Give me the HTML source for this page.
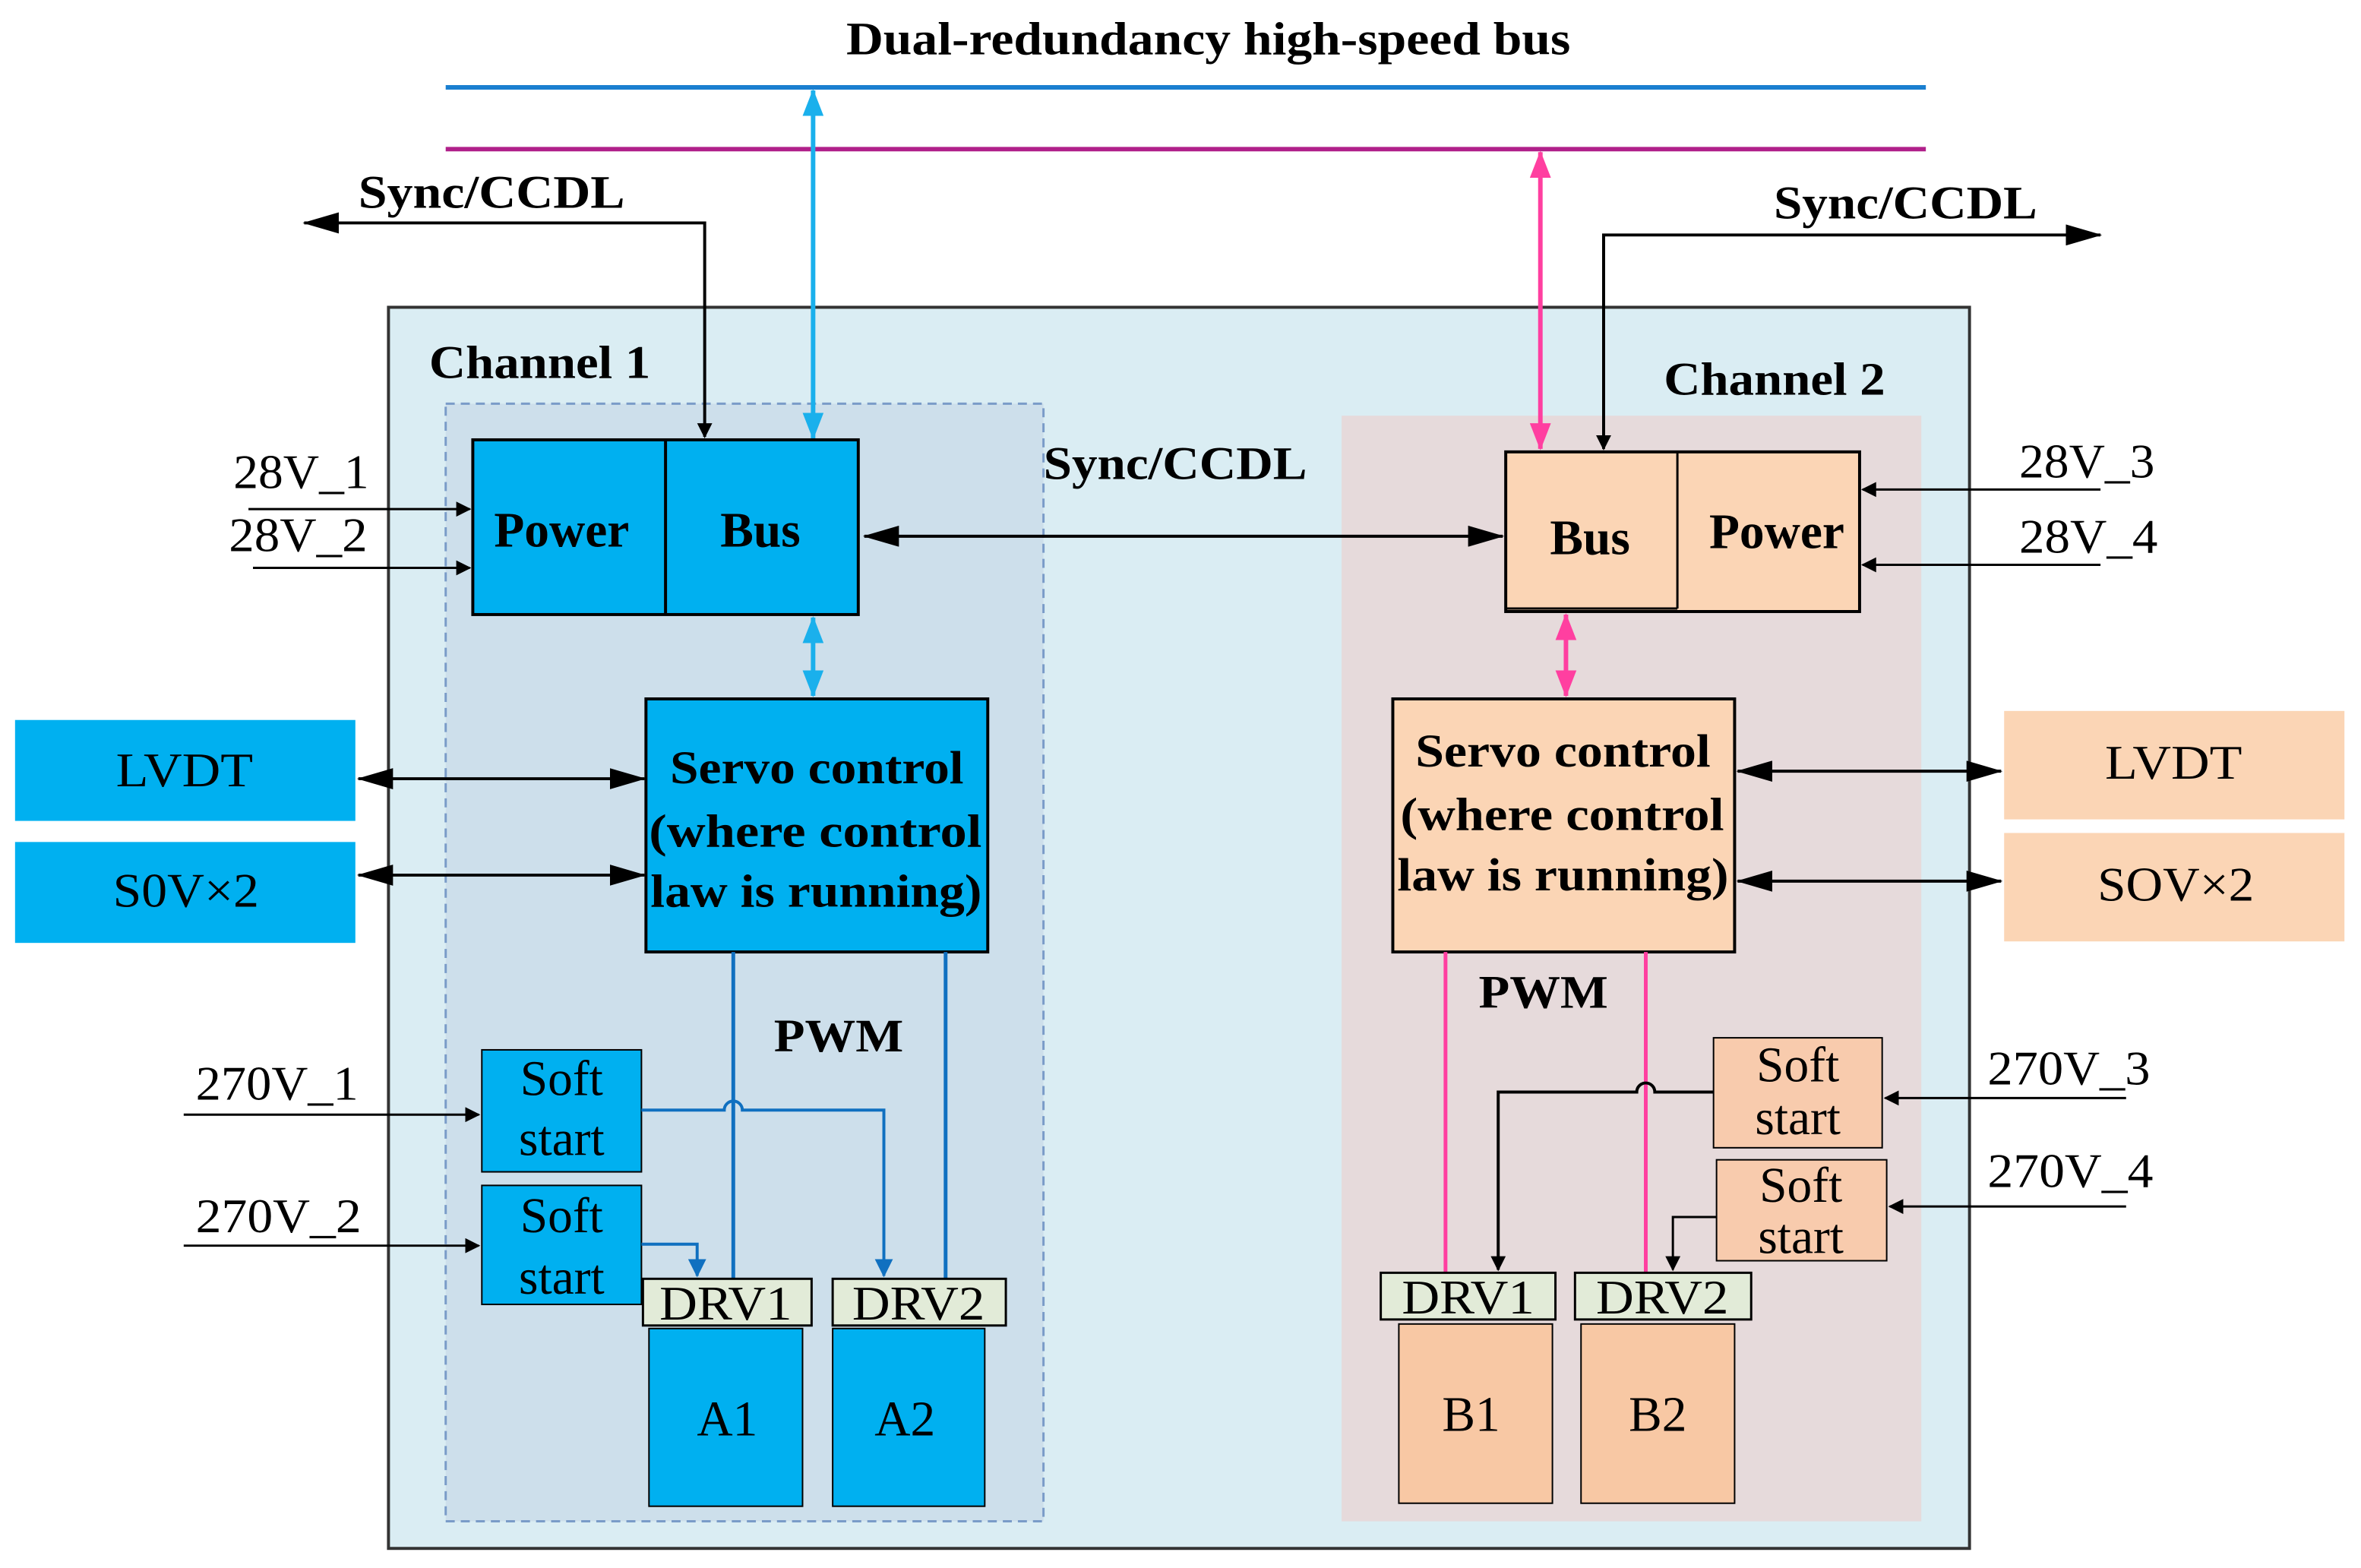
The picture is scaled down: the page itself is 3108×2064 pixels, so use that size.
<!DOCTYPE html>
<html><head><meta charset="utf-8"><style>
html,body{margin:0;padding:0;background:#fff;}
svg{display:block;}
text{font-family:"Liberation Serif",serif;fill:#000;}
.b{font-weight:bold;}
</style></head><body>
<svg width="3108" height="2064" viewBox="0 0 1568 1041" preserveAspectRatio="none" xmlns="http://www.w3.org/2000/svg">
<defs>
<marker id="ak" markerWidth="10" markerHeight="10" refX="9" refY="5" orient="auto-start-reverse" markerUnits="userSpaceOnUse"><path d="M0,0 L10,5 L0,10 Z" fill="#000"/></marker>
<marker id="akL" markerWidth="24" markerHeight="14" refX="23" refY="7" orient="auto-start-reverse" markerUnits="userSpaceOnUse"><path d="M0,0 L24,7 L0,14 Z" fill="#000"/></marker>
<marker id="ab" markerWidth="18" markerHeight="14" refX="17" refY="7" orient="auto-start-reverse" markerUnits="userSpaceOnUse"><path d="M0,0 L18,7 L0,14 Z" fill="#1ab0ec"/></marker>
<marker id="ap" markerWidth="18" markerHeight="14" refX="17" refY="7" orient="auto-start-reverse" markerUnits="userSpaceOnUse"><path d="M0,0 L18,7 L0,14 Z" fill="#ff3fa0"/></marker>
<marker id="ad" markerWidth="12" markerHeight="12" refX="11" refY="6" orient="auto" markerUnits="userSpaceOnUse"><path d="M0,0 L12,6 L0,12 Z" fill="#1070c0"/></marker>
</defs>
<rect width="1568" height="1041" fill="#fff"/>
<text x="562" y="36" font-size="31" class="b" textLength="481" lengthAdjust="spacingAndGlyphs">Dual-redundancy high-speed bus</text>
<line x1="296" y1="58" x2="1279" y2="58" stroke="#1a7fd0" stroke-width="3"/>
<line x1="296" y1="99" x2="1279" y2="99" stroke="#b0208a" stroke-width="3"/>

<rect x="258" y="204" width="1050" height="824" fill="#daedf3" stroke="#333" stroke-width="2"/>
<rect x="296" y="268" width="397" height="742" fill="#cddfeb" stroke="#7a9cc8" stroke-width="1.5" stroke-dasharray="6,4"/>
<rect x="891" y="276" width="385" height="734" fill="#e6dadb"/>
<text x="285" y="251" font-size="31" class="b" textLength="147" lengthAdjust="spacingAndGlyphs">Channel 1</text>
<text x="1105" y="262" font-size="31" class="b" textLength="147" lengthAdjust="spacingAndGlyphs">Channel 2</text>

<polyline points="468,290 468,148 202,148" fill="none" stroke="#000" stroke-width="2" marker-start="url(#ak)" marker-end="url(#akL)"/>
<text x="238" y="138" font-size="31" class="b" textLength="177" lengthAdjust="spacingAndGlyphs">Sync/CCDL</text>
<polyline points="1065,298 1065,156 1395,156" fill="none" stroke="#000" stroke-width="2" marker-start="url(#ak)" marker-end="url(#akL)"/>
<text x="1178" y="145" font-size="31" class="b" textLength="175" lengthAdjust="spacingAndGlyphs">Sync/CCDL</text>

<line x1="540" y1="60" x2="540" y2="291" stroke="#1ab0ec" stroke-width="3" marker-start="url(#ab)" marker-end="url(#ab)"/>
<line x1="1023" y1="101" x2="1023" y2="298" stroke="#ff3fa0" stroke-width="3" marker-start="url(#ap)" marker-end="url(#ap)"/>

<rect x="314" y="292" width="256" height="116" fill="#00b0f0" stroke="#000" stroke-width="2"/>
<line x1="442" y1="292" x2="442" y2="408" stroke="#000" stroke-width="2"/>
<text x="373" y="363" font-size="33" class="b" text-anchor="middle">Power</text>
<text x="505" y="363" font-size="33" class="b" text-anchor="middle">Bus</text>
<rect x="1000" y="300" width="235" height="106" fill="#fbd5b5" stroke="#000" stroke-width="2"/>
<line x1="1114" y1="300" x2="1114" y2="404" stroke="#000" stroke-width="1.5"/>
<line x1="1000" y1="404" x2="1114" y2="404" stroke="#000" stroke-width="1.5"/>
<text x="1056" y="368" font-size="33" class="b" text-anchor="middle">Bus</text>
<text x="1180" y="364" font-size="33" class="b" text-anchor="middle">Power</text>

<text x="693" y="318" font-size="31" class="b" textLength="175" lengthAdjust="spacingAndGlyphs">Sync/CCDL</text>
<line x1="574" y1="356" x2="998" y2="356" stroke="#000" stroke-width="2" marker-start="url(#akL)" marker-end="url(#akL)"/>

<text x="155" y="324" font-size="32" textLength="90" lengthAdjust="spacingAndGlyphs">28V_1</text>
<line x1="165" y1="338" x2="312" y2="338" stroke="#000" stroke-width="1.5" marker-end="url(#ak)"/>
<text x="152" y="366" font-size="32" textLength="92" lengthAdjust="spacingAndGlyphs">28V_2</text>
<line x1="168" y1="377" x2="312" y2="377" stroke="#000" stroke-width="1.5" marker-end="url(#ak)"/>
<text x="1341" y="317" font-size="32" textLength="90" lengthAdjust="spacingAndGlyphs">28V_3</text>
<line x1="1395" y1="325" x2="1237" y2="325" stroke="#000" stroke-width="1.5" marker-end="url(#ak)"/>
<text x="1341" y="367" font-size="32" textLength="92" lengthAdjust="spacingAndGlyphs">28V_4</text>
<line x1="1395" y1="375" x2="1237" y2="375" stroke="#000" stroke-width="1.5" marker-end="url(#ak)"/>

<line x1="540" y1="410" x2="540" y2="462" stroke="#1ab0ec" stroke-width="3" marker-start="url(#ab)" marker-end="url(#ab)"/>
<line x1="1040" y1="408" x2="1040" y2="462" stroke="#ff3fa0" stroke-width="3" marker-start="url(#ap)" marker-end="url(#ap)"/>

<rect x="429" y="464" width="227" height="168" fill="#00b0f0" stroke="#000" stroke-width="2"/>
<text x="445" y="520" font-size="31" class="b" textLength="195" lengthAdjust="spacingAndGlyphs">Servo control</text>
<text x="431" y="562" font-size="31" class="b" textLength="221" lengthAdjust="spacingAndGlyphs">(where control</text>
<text x="432" y="602" font-size="31" class="b" textLength="220" lengthAdjust="spacingAndGlyphs">law is running)</text>
<rect x="10" y="478" width="226" height="67" fill="#00b0f0"/>
<text x="77" y="522" font-size="32" textLength="91" lengthAdjust="spacingAndGlyphs">LVDT</text>
<rect x="10" y="559" width="226" height="67" fill="#00b0f0"/>
<text x="75" y="602" font-size="32" textLength="97" lengthAdjust="spacingAndGlyphs">S0V×2</text>
<line x1="238" y1="517" x2="428" y2="517" stroke="#000" stroke-width="2" marker-start="url(#akL)" marker-end="url(#akL)"/>
<line x1="238" y1="581" x2="428" y2="581" stroke="#000" stroke-width="2" marker-start="url(#akL)" marker-end="url(#akL)"/>

<rect x="925" y="464" width="227" height="168" fill="#fbd5b5" stroke="#000" stroke-width="2"/>
<text x="940" y="509" font-size="31" class="b" textLength="196" lengthAdjust="spacingAndGlyphs">Servo control</text>
<text x="930" y="551" font-size="31" class="b" textLength="215" lengthAdjust="spacingAndGlyphs">(where control</text>
<text x="928" y="591" font-size="31" class="b" textLength="220" lengthAdjust="spacingAndGlyphs">law is running)</text>
<rect x="1331" y="472" width="226" height="72" fill="#fbd5b5"/>
<text x="1398" y="517" font-size="32" fill="#333" textLength="91" lengthAdjust="spacingAndGlyphs">LVDT</text>
<rect x="1331" y="553" width="226" height="72" fill="#fbd5b5"/>
<text x="1393" y="598" font-size="32" fill="#333" textLength="104" lengthAdjust="spacingAndGlyphs">SOV×2</text>
<line x1="1154" y1="512" x2="1329" y2="512" stroke="#000" stroke-width="2" marker-start="url(#akL)" marker-end="url(#akL)"/>
<line x1="1154" y1="585" x2="1329" y2="585" stroke="#000" stroke-width="2" marker-start="url(#akL)" marker-end="url(#akL)"/>

<text x="514" y="698" font-size="31" class="b" textLength="86" lengthAdjust="spacingAndGlyphs">PWM</text>
<text x="982" y="669" font-size="31" class="b" textLength="86" lengthAdjust="spacingAndGlyphs">PWM</text>

<line x1="487" y1="632" x2="487" y2="849" stroke="#1070c0" stroke-width="2.5"/>
<line x1="628" y1="632" x2="628" y2="849" stroke="#1070c0" stroke-width="2.5"/>
<rect x="320" y="697" width="106" height="81" fill="#00b0f0" stroke="#000" stroke-width="1"/>
<text x="373" y="727" font-size="33" text-anchor="middle">Soft</text>
<text x="373" y="767" font-size="33" text-anchor="middle">start</text>
<rect x="320" y="787" width="106" height="79" fill="#00b0f0" stroke="#000" stroke-width="1"/>
<text x="373" y="818" font-size="33" text-anchor="middle">Soft</text>
<text x="373" y="859" font-size="33" text-anchor="middle">start</text>
<text x="130" y="730" font-size="32" textLength="108" lengthAdjust="spacingAndGlyphs">270V_1</text>
<line x1="122" y1="740" x2="318" y2="740" stroke="#000" stroke-width="1.5" marker-end="url(#ak)"/>
<text x="130" y="818" font-size="32" textLength="110" lengthAdjust="spacingAndGlyphs">270V_2</text>
<line x1="122" y1="827" x2="318" y2="827" stroke="#000" stroke-width="1.5" marker-end="url(#ak)"/>
<path d="M426,737 L481,737 A6,6 0 0 1 493,737 L587,737 L587,847" fill="none" stroke="#1070c0" stroke-width="2" marker-end="url(#ad)"/>
<path d="M426,826 L463,826 L463,847" fill="none" stroke="#1070c0" stroke-width="2" marker-end="url(#ad)"/>
<rect x="427" y="849" width="112" height="31" fill="#e2ebd8" stroke="#000" stroke-width="1.5"/>
<text x="438" y="876" font-size="32" textLength="88" lengthAdjust="spacingAndGlyphs">DRV1</text>
<rect x="553" y="849" width="115" height="31" fill="#e2ebd8" stroke="#000" stroke-width="1.5"/>
<text x="566" y="876" font-size="32" textLength="88" lengthAdjust="spacingAndGlyphs">DRV2</text>
<rect x="431" y="882" width="102" height="118" fill="#00b0f0" stroke="#000" stroke-width="1"/>
<text x="483" y="953" font-size="33" text-anchor="middle">A1</text>
<rect x="553" y="882" width="101" height="118" fill="#00b0f0" stroke="#000" stroke-width="1"/>
<text x="601" y="953" font-size="33" text-anchor="middle">A2</text>

<line x1="960" y1="632" x2="960" y2="845" stroke="#ff3fa0" stroke-width="2.5"/>
<line x1="1093" y1="632" x2="1093" y2="845" stroke="#ff3fa0" stroke-width="2.5"/>
<rect x="1138" y="689" width="112" height="73" fill="#f8cbad" stroke="#000" stroke-width="1"/>
<text x="1194" y="718" font-size="33" text-anchor="middle">Soft</text>
<text x="1194" y="753" font-size="33" text-anchor="middle">start</text>
<rect x="1140" y="770" width="113" height="67" fill="#f8cbad" stroke="#000" stroke-width="1"/>
<text x="1196" y="798" font-size="33" text-anchor="middle">Soft</text>
<text x="1196" y="832" font-size="33" text-anchor="middle">start</text>
<text x="1320" y="720" font-size="32" textLength="108" lengthAdjust="spacingAndGlyphs">270V_3</text>
<line x1="1412" y1="729" x2="1252" y2="729" stroke="#000" stroke-width="1.5" marker-end="url(#ak)"/>
<text x="1320" y="788" font-size="32" textLength="110" lengthAdjust="spacingAndGlyphs">270V_4</text>
<line x1="1412" y1="801" x2="1255" y2="801" stroke="#000" stroke-width="1.5" marker-end="url(#ak)"/>
<path d="M1138,725 L1099,725 A6,6 0 0 0 1087,725 L995,725 L995,843" fill="none" stroke="#000" stroke-width="2" marker-end="url(#ak)"/>
<path d="M1140,808 L1111,808 L1111,843" fill="none" stroke="#000" stroke-width="1.5" marker-end="url(#ak)"/>
<rect x="917" y="845" width="116" height="31" fill="#e2ebd8" stroke="#000" stroke-width="1.5"/>
<text x="931" y="872" font-size="32" textLength="88" lengthAdjust="spacingAndGlyphs">DRV1</text>
<rect x="1046" y="845" width="117" height="31" fill="#e2ebd8" stroke="#000" stroke-width="1.5"/>
<text x="1060" y="872" font-size="32" textLength="88" lengthAdjust="spacingAndGlyphs">DRV2</text>
<rect x="929" y="879" width="102" height="119" fill="#f8c8a4" stroke="#000" stroke-width="1"/>
<text x="977" y="950" font-size="33" text-anchor="middle">B1</text>
<rect x="1050" y="879" width="102" height="119" fill="#f8c8a4" stroke="#000" stroke-width="1"/>
<text x="1101" y="950" font-size="33" text-anchor="middle">B2</text>
</svg>
</body></html>
